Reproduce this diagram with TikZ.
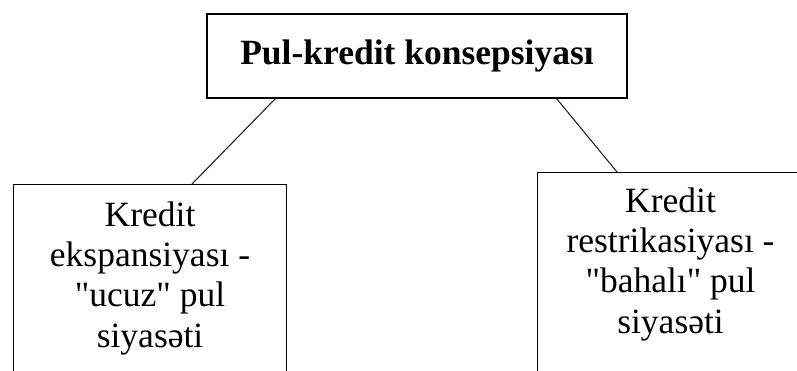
\documentclass[tikz,border=0pt]{standalone}
\usepackage{fontspec}
\setmainfont{Liberation Serif}[Ligatures=TeXOff]
\usetikzlibrary{positioning}
\tikzset{
    topbox/.style = {rectangle, draw=black, line width=1.1pt, minimum width=420pt, minimum height=84pt, inner sep=0pt, font=\fontsize{35.5}{40.3}\selectfont\bfseries},
    policy/.style = {rectangle, draw=black, line width=1.1pt, anchor=north west, align=center, inner xsep=0pt, font=\fontsize{35.5}{40.3}\selectfont},
    link/.style = {line width=1.1pt, draw=black!85}
}
\newcommand{\lowend}{\rule[-28pt]{0pt}{28pt}}

\begin{document}
\begin{tikzpicture}[x=1pt, y=-1pt]

\useasboundingbox (0,0) rectangle (797,371);
\fill[white] (0,0) rectangle (797,371);
\clip (0,0) rectangle (797,371);

\node (pulkredit) [topbox] at (417,56) {Pul-kredit konsepsiyası};
\node (kexp) [policy, minimum width=273pt, inner ysep=17pt] at (13,184)
    {Kredit\\ekspansiyası -\\"ucuz" pul\\siyasəti\lowend};
\node (krestr) [policy, minimum width=266pt, inner ysep=15pt] at (537,172)
    {Kredit\\restrikasiyası -\\"bahalı" pul\\siyasəti\lowend};

% connectors
\draw [link] ([xshift=69pt]pulkredit.south west) -- ([xshift=179pt]kexp.north west);
\draw [link] ([xshift=-71pt]pulkredit.south east) -- ([xshift=80pt]krestr.north west);

\end{tikzpicture}
\end{document}
